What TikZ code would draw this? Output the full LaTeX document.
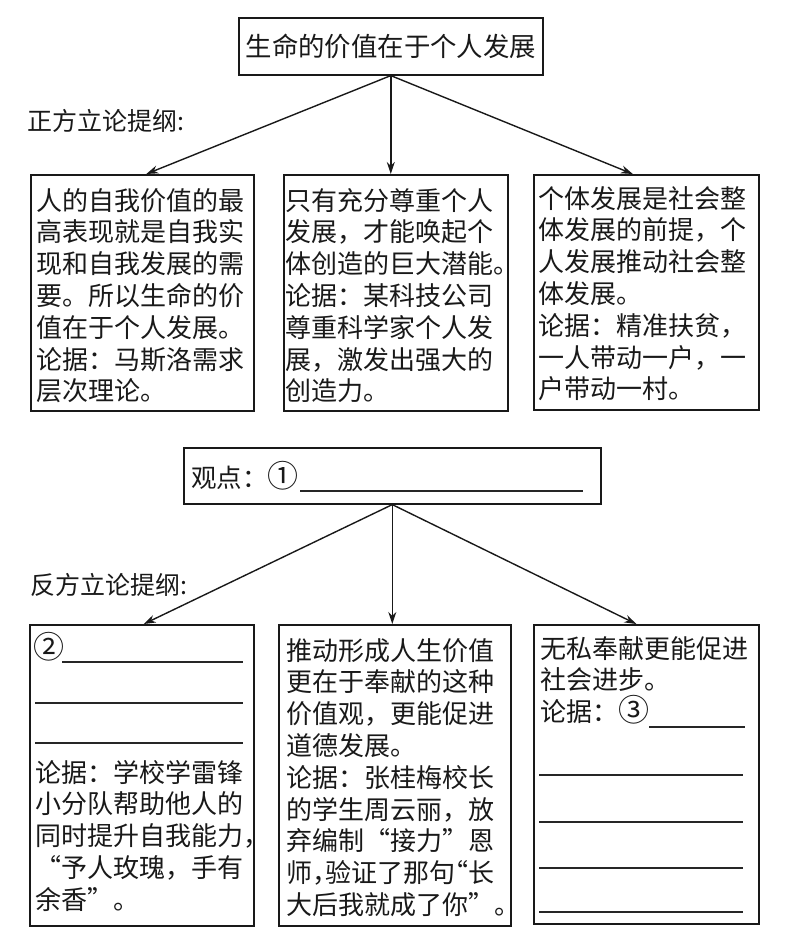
\documentclass[tikz,border=0pt]{standalone}
\usepackage{fontspec}
\newfontfamily\cjk{Noto Sans CJK SC}
\usetikzlibrary{arrows.meta,calc}
\newcommand{\circnum}[1]{{\fontsize{31}{30}\selectfont #1}}
\newcommand{\hpl}[1]{\makebox[0.5em][l]{#1}}
\newcommand{\hpr}[1]{\makebox[0.5em][r]{#1}}
\begin{document}
\begin{tikzpicture}[x=1pt,y=-1pt,
  box/.style={draw=black!90, line width=1.6pt, inner sep=0pt, anchor=north west},
  txt/.style={anchor=base west, inner sep=0pt, text width=#1, align=left,
              font=\cjk\fontsize{26}{31.8}\selectfont, text=black!90},
  lbl/.style={anchor=west, inner sep=0pt, font=\cjk\fontsize{25}{30}\selectfont, text=black!90},
  conn/.style={line width=1.4pt, draw=black!90, -{Stealth[length=12pt,width=8pt]}},
  blank/.style={line width=1.2pt, draw=black!85},
]
\useasboundingbox (0,0) rectangle (789,944);

% ---------- top part ----------
\node[box, minimum width=304pt, minimum height=57pt,
      font=\cjk\fontsize{26.4}{30}\selectfont, text=black!90] (top) at (238,17) {生命的价值在于个人发展};
\node[lbl] (pro) at (27,121) {正方立论提纲:};

\node[box, minimum width=223pt, minimum height=236pt] (b1) at (30,174) {};
\node[box, minimum width=224pt, minimum height=236pt] (b2) at (283,174) {};
\node[box, minimum width=225pt, minimum height=235pt] (b3) at (533,174) {};

\node[txt=220pt] (t1) at (36,210) {人的自我价值的最\\高表现就是自我实\\现和自我发展的需\\要。所以生命的价\\值在于个人发展。\\论据：马斯洛需求\\层次理论。};
\node[txt=222pt] (t2) at (285,210) {只有充分尊重个人\\发展，才能唤起个\\体创造的巨大潜能。\\论据：某科技公司\\尊重科学家个人发\\展，激发出强大的\\创造力。};
\node[txt=222pt] (t3) at (538,208) {个体发展是社会整\\体发展的前提，个\\人发展推动社会整\\体发展。\\论据：精准扶贫，\\一人带动一户，一\\户带动一村。};

\draw[conn] (top.south) -- ([xshift=4pt]b1.north);
\draw[conn] (top.south) -- (top.south |- b2.north);
\draw[conn] (top.south) -- ([xshift=-13.5pt]b3.north);

% ---------- middle ----------
\node[box, minimum width=417pt, minimum height=56pt] (mid) at (183,447) {};
\node[lbl, font=\cjk\fontsize{25.5}{30}\selectfont] (vp) at (191,476) {观点：\circnum{①}};
\draw[blank] (300,491) -- (583,491);

\node[lbl] (con) at (30,585) {反方立论提纲:};

\node[box, minimum width=224pt, minimum height=301pt] (b4) at (29,624) {};
\node[box, minimum width=232pt, minimum height=301pt] (b5) at (278,624) {};
\node[box, minimum width=225pt, minimum height=299pt] (b6) at (533,624) {};

\draw[conn] (mid.south) -- ([xshift=2pt]b4.north);
\draw[conn] (mid.south) -- (mid.south |- b5.north);
\draw[conn] (mid.south) -- ([xshift=-10pt]b6.north);

% box 4
\node[lbl, font=\cjk\fontsize{26}{30}\selectfont] (c2) at (33,647) {\circnum{②}};
\draw[blank] (62,662) -- (243,662);
\draw[blank] (35,703) -- (243,703);
\draw[blank] (35,743) -- (243,743);
\node[txt=220pt] (t4) at (35,782) {论据：学校学雷锋\\小分队帮助他人的\\同时提升自我能力\hpl{，}\\“予人玫瑰，手有\\余香”。};

% box 5
\node[txt=228pt] (t5) at (286,660) {推动形成人生价值\\更在于奉献的这种\\价值观，更能促进\\道德发展。\\论据：张桂梅校长\\的学生周云丽，放\\弃编制“接力”恩\\师\hpl{，}验证了那句\hpr{“}长\\大后我就成了你”。};

% box 6
\node[txt=222pt] (t6) at (540,658) {无私奉献更能促进\\社会进步。\\论据：\circnum{③}};
\draw[blank] (649,727) -- (745,727);
\draw[blank] (539,775) -- (743,775);
\draw[blank] (539,822) -- (743,822);
\draw[blank] (539,868) -- (743,868);
\draw[blank] (539,912) -- (743,912);
\end{tikzpicture}
\end{document}
